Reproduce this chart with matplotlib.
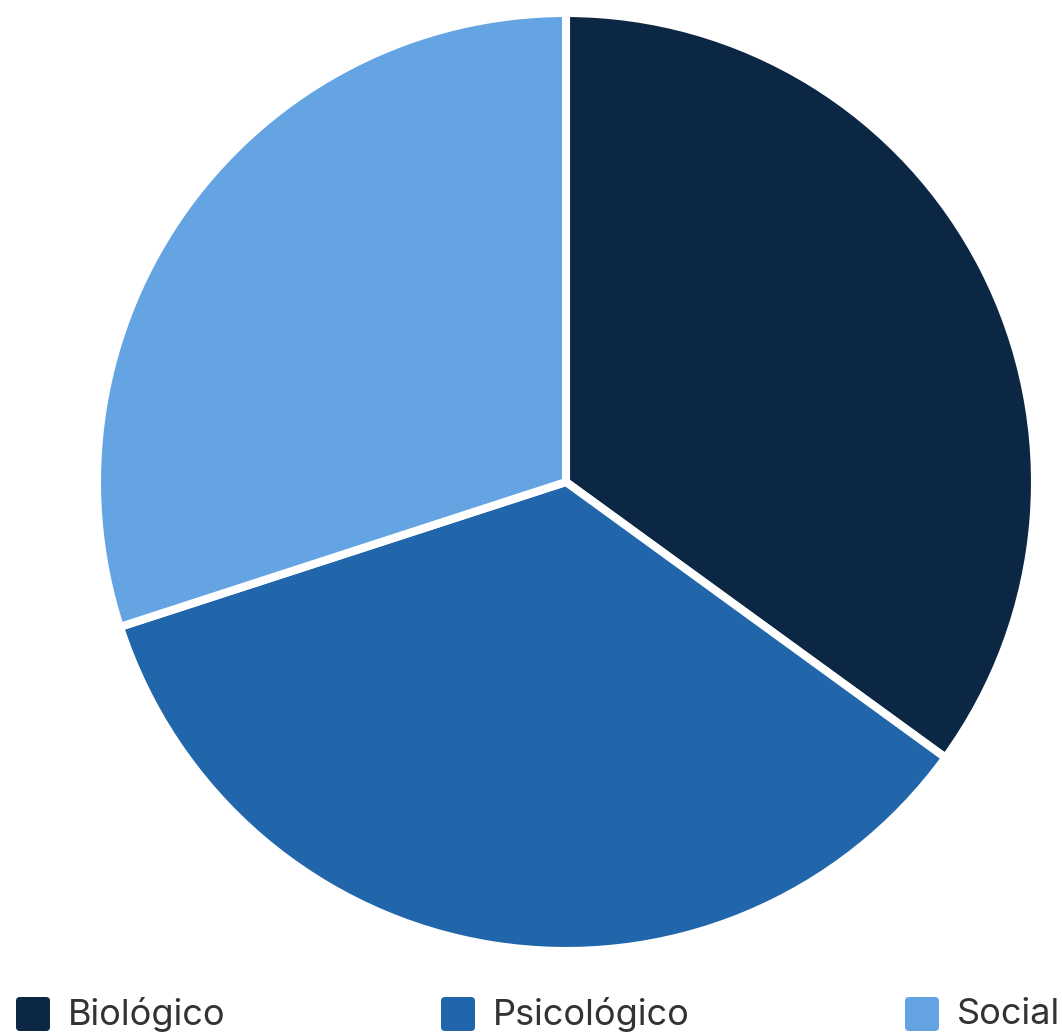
import matplotlib
matplotlib.use("Agg")
import matplotlib.pyplot as plt
from matplotlib.patches import FancyBboxPatch

# Data
labels = ["Biológico", "Psicológico", "Social"]
values = [35, 35, 30]
colors = ["#0c2744", "#2166ab", "#64a4e2"]

W, H = 1062, 1034
fig = plt.figure(figsize=(W / 100, H / 100), dpi=100)
fig.patch.set_facecolor("white")

# Pie axes: centre (566, 482) px, visible radius 465 px
cx, cy, r = 566, 482, 469
ax = fig.add_axes([(cx - r) / W, (H - cy - r) / H, 2 * r / W, 2 * r / H])
ax.pie(values, colors=colors, startangle=90, counterclock=False, radius=1,
       wedgeprops=dict(edgecolor="white", linewidth=5.8))
ax.set_xlim(-1, 1)
ax.set_ylim(-1, 1)
ax.axis("off")

# Legend drawn on an overlay axes in pixel coordinates
lax = fig.add_axes([0, 0, 1, 1])
lax.set_xlim(0, W)
lax.set_ylim(H, 0)
lax.axis("off")
legend_x = [16, 441, 905]
for x, lab, col in zip(legend_x, labels, colors):
    lax.add_patch(FancyBboxPatch((x, 997), 34, 34,
                                 boxstyle="round,pad=0,rounding_size=4",
                                 facecolor=col, edgecolor="none"))
    lax.text(x + 52, 1014, lab, fontsize=26, family=["Inter", "DejaVu Sans"],
             color="#333333", va="center", ha="left")

fig.savefig("out.png", dpi=100, facecolor="white")
